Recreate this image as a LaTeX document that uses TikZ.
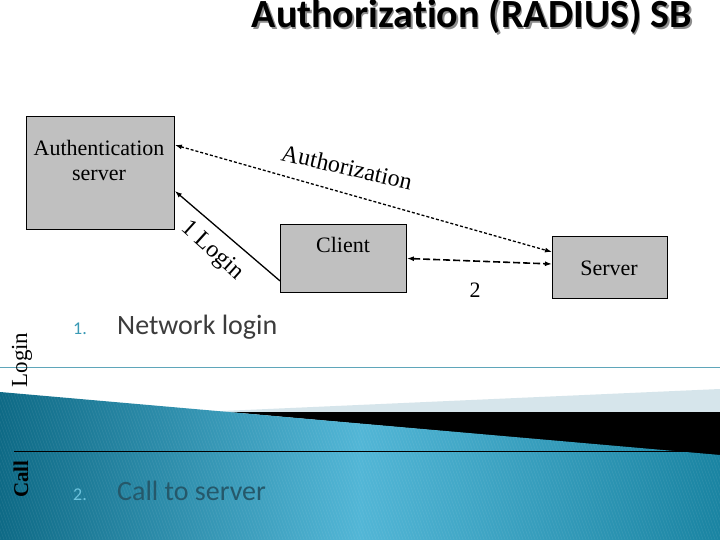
\documentclass[tikz,border=0pt]{standalone}
\usepackage{fontspec}
\setmainfont{Liberation Serif}
\newfontfamily\titlefont[Ligatures={NoCommon}]{Carlito}
\usetikzlibrary{arrows.meta,calc}
\definecolor{boxgray}{HTML}{C0C0C0}
\definecolor{lightband}{HTML}{D6E5EB}
\definecolor{tealdark}{HTML}{0E6A86}
\definecolor{teallight}{HTML}{52B6D6}
\definecolor{tealright}{HTML}{1A84A2}
\definecolor{tealline}{HTML}{5FA6BA}
\definecolor{numteal}{HTML}{3A9AB5}
\definecolor{numlight}{HTML}{6CC3DD}
\definecolor{itemgray}{HTML}{3C3C3C}
\definecolor{itemdark}{HTML}{25586A}
\tikzset{
  box/.style={draw=black, fill=boxgray, line width=0.9pt, inner sep=0pt, anchor=north west},
  serif/.style={font=\fontsize{22}{25}\selectfont, align=center, inner sep=0pt},
  tip/.style={-{Latex[length=7pt,width=5pt]}},
  dots/.style={line width=1.3pt, dash pattern=on 3pt off 2pt},
  dashes/.style={line width=1.6pt, dash pattern=on 7pt off 3pt},
  itemtext/.style={font=\titlefont\fontsize{28}{30}\selectfont, anchor=base west, inner sep=0pt},
  itemnum/.style={font=\titlefont\fontsize{18}{20}\selectfont, anchor=base west, inner sep=0pt},
  titlestyle/.style={anchor=base east, inner sep=0pt, font=\titlefont\bfseries\fontsize{40}{42}\selectfont}
}
\begin{document}
\begin{tikzpicture}[x=1pt,y=-1pt]
\useasboundingbox (0,0) rectangle (720,540);
% background
\fill[white] (0,0) rectangle (720,540);
\fill[lightband] (200,412) -- (720,389) -- (720,412) -- cycle;
\fill[black] (229,412) -- (720,412) -- (720,456) -- cycle;
\shade[left color=tealdark, right color=tealright, middle color=teallight]
  (0,392) -- (720,455) -- (720,540) -- (0,540) -- cycle;
\begin{scope}
  \clip (0,392) -- (720,455) -- (720,540) -- (0,540) -- cycle;
  \foreach \i in {-120,-117,...,720}
    \draw[white, opacity=0.07, line width=0.6pt] (\i,380) -- (\i+60,545);
\end{scope}
\draw[tealline, line width=0.9pt] (0,367) -- (720,367);
\draw[black, line width=0.8pt] (14,451) -- (720,451);

% title
\node[titlestyle, text=black!45] (titleshadow) at (693.5,29.5) {Authorization (RADIUS) SB};
\node[titlestyle] (title) at (692,28) {Authorization (RADIUS) SB};

% boxes
\node[box, minimum width=148pt, minimum height=113pt] (auth) at (26,116) {};
\node[box, minimum width=126pt, minimum height=68pt] (client) at (280,224) {};
\node[box, minimum width=115pt, minimum height=62pt] (server) at (552,236) {};
\node[serif] (authtext) at (99,160) {Authentication\\server};
\node[serif] (clienttext) at (343,245) {Client};
\node[serif] (servertext) at (609,268) {Server};

% connectors
\draw[dots, {Latex[length=7pt,width=5pt]}-{Latex[length=7pt,width=5pt]}]
  ($(auth.north east)+(0,29)$) -- ($(server.north west)+(0,16)$);
\draw[dashes, {Latex[length=7pt,width=5pt]}-{Latex[length=7pt,width=5pt]}]
  (client.east) -- ($(server.north west)+(0,28)$);
\draw[line width=1.3pt, tip] ($(client.south west)+(0,-12)$) -- ($(auth.north east)+(0,75)$);

% connector labels
\node[font=\fontsize{24}{26}\selectfont, rotate=-13, inner sep=0pt] (authzlabel) at (347,167) {Authorization};
\node[font=\fontsize{24}{26}\selectfont, rotate=-42, inner sep=0pt] (loginlabel) at (212,251) {1 Login};
\node[serif] (twolabel) at (475,290) {2};

% side labels
\node[font=\fontsize{23}{25}\selectfont, rotate=90, inner sep=0pt] (sidelogin) at (22,360) {Login};
\node[font=\bfseries\fontsize{21}{23}\selectfont, rotate=90, inner sep=0pt] (sidecall) at (21,479) {Call};

% list items
\node[itemnum, text=numteal] (num1) at (73,334) {1.};
\node[itemtext, text=itemgray] (item1) at (117,334) {Network login};
\node[itemnum, text=numlight] (num2) at (73,500) {2.};
\node[itemtext, text=itemdark] (item2) at (117,500) {Call to server};
\end{tikzpicture}
\end{document}
